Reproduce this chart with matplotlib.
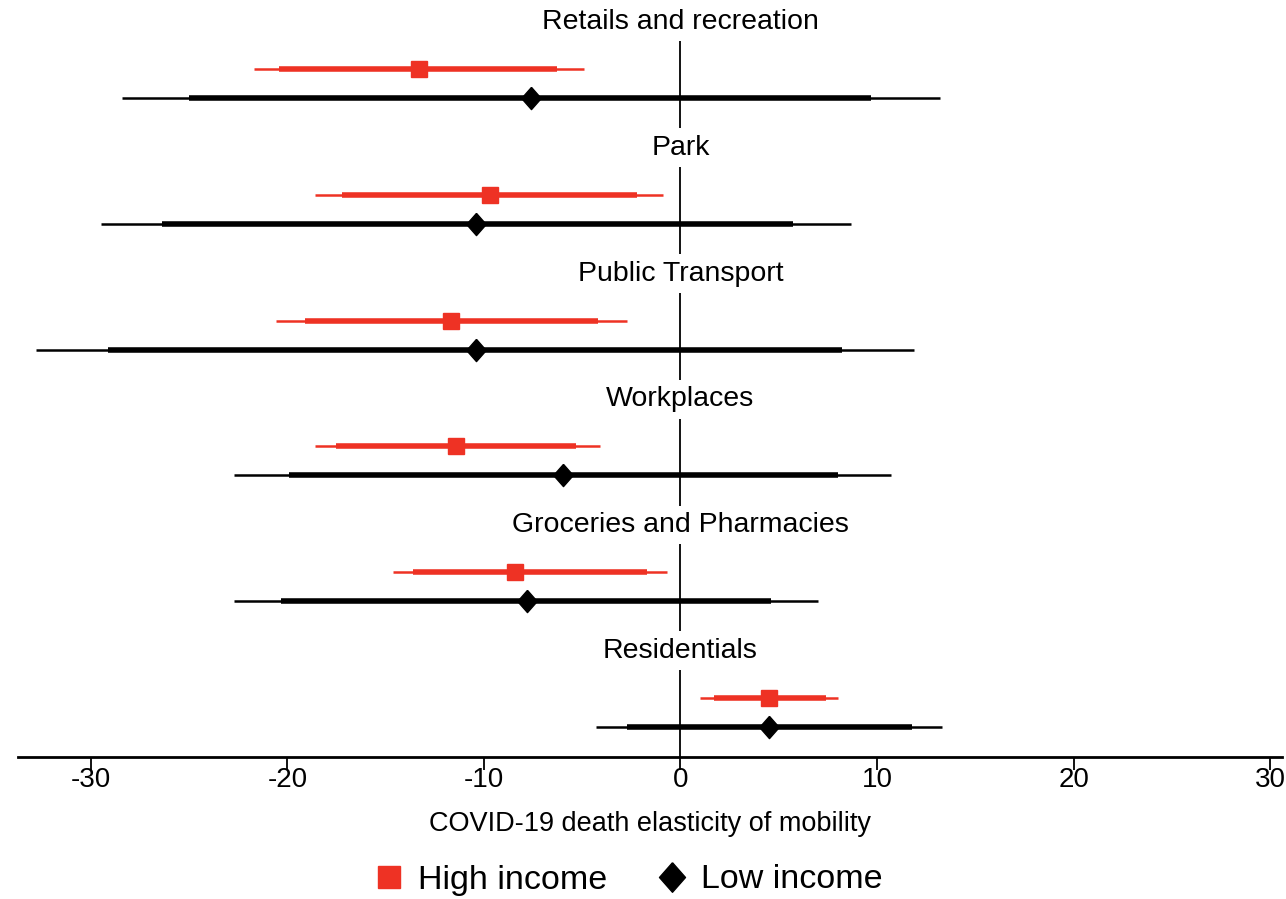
import numpy as np
import matplotlib.pyplot as plt

plt.rcParams['font.family'] = ['Liberation Sans', 'DejaVu Sans']
plt.rcParams['axes.unicode_minus'] = False

groups = ["Retails and recreation", "Park", "Public Transport", "Workplaces",
          "Groceries and Pharmacies", "Residentials"]

# high income: point estimate, 90% (thick) and 95% (thin) intervals
hi_est = [-13.3, -9.7, -11.65, -11.4, -8.4, 4.5]
hi_lo90 = [-20.4, -17.2, -19.1, -17.5, -13.6, 1.7]
hi_hi90 = [-6.3, -2.2, -4.2, -5.3, -1.7, 7.4]
hi_lo95 = [-21.7, -18.6, -20.6, -18.6, -14.6, 1.0]
hi_hi95 = [-4.9, -0.9, -2.7, -4.1, -0.7, 8.0]

# low income
lo_est = [-7.6, -10.4, -10.4, -6.0, -7.8, 4.5]
lo_lo90 = [-25.0, -26.4, -29.1, -19.9, -20.3, -2.7]
lo_hi90 = [9.7, 5.7, 8.2, 8.0, 4.6, 11.8]
lo_lo95 = [-28.4, -29.5, -32.8, -22.7, -22.7, -4.3]
lo_hi95 = [13.2, 8.65, 11.9, 10.7, 7.0, 13.3]

red = "#ee3224"
pos = np.arange(len(groups))
y_hi = pos
y_lo = pos + 0.23

# slightly tall diamond like the original
diamond = [(0, 1), (0.88, 0), (0, -1), (-0.88, 0), (0, 1)]

fig = plt.figure(figsize=(12.86, 8.99), dpi=100)
ax = fig.add_axes([18/1286, 1 - 757/899, (1282-18)/1286, 757/899])

# zero line, broken under each panel label
ax.vlines(np.zeros(len(pos)), pos - 0.22, pos + 0.47, color="black", lw=1.3, zorder=1)

ax.hlines(y_hi, hi_lo95, hi_hi95, color=red, lw=1.8, zorder=2)
ax.hlines(y_hi, hi_lo90, hi_hi90, color=red, lw=4, zorder=3)
ax.plot(hi_est, y_hi, "s", color=red, ms=12, ls="none", zorder=4, label="High income")

ax.hlines(y_lo, lo_lo95, lo_hi95, color="black", lw=1.8, zorder=2)
ax.hlines(y_lo, lo_lo90, lo_hi90, color="black", lw=4, zorder=3)
ax.plot(lo_est, y_lo, marker=diamond, color="black", ms=16, ls="none", zorder=4,
        label="Low income")

for p, g in zip(pos, groups):
    ax.text(0, p - 0.375, g, ha="center", va="center", fontsize=20.5)

ax.set_xlim(-33.7, 30.6)
ax.set_ylim(5.47, -0.55)
ax.set_xticks(np.arange(-30, 31, 10))
ax.tick_params(axis="x", labelsize=20, length=9, width=1.3, direction="out", pad=-2)
ax.set_yticks([])
for s in ["top", "left", "right"]:
    ax.spines[s].set_visible(False)
ax.spines["bottom"].set_linewidth(2)
ax.set_xlabel("COVID-19 death elasticity of mobility", fontsize=19.5, labelpad=13)

fig.legend(loc="center", ncol=2, frameon=False, fontsize=24.5,
           bbox_to_anchor=(627/1286, 1 - 880/899), handletextpad=0.35, columnspacing=1.4,
           handlelength=1.0, markerscale=1.33)

fig.savefig("out.png", dpi=100)
